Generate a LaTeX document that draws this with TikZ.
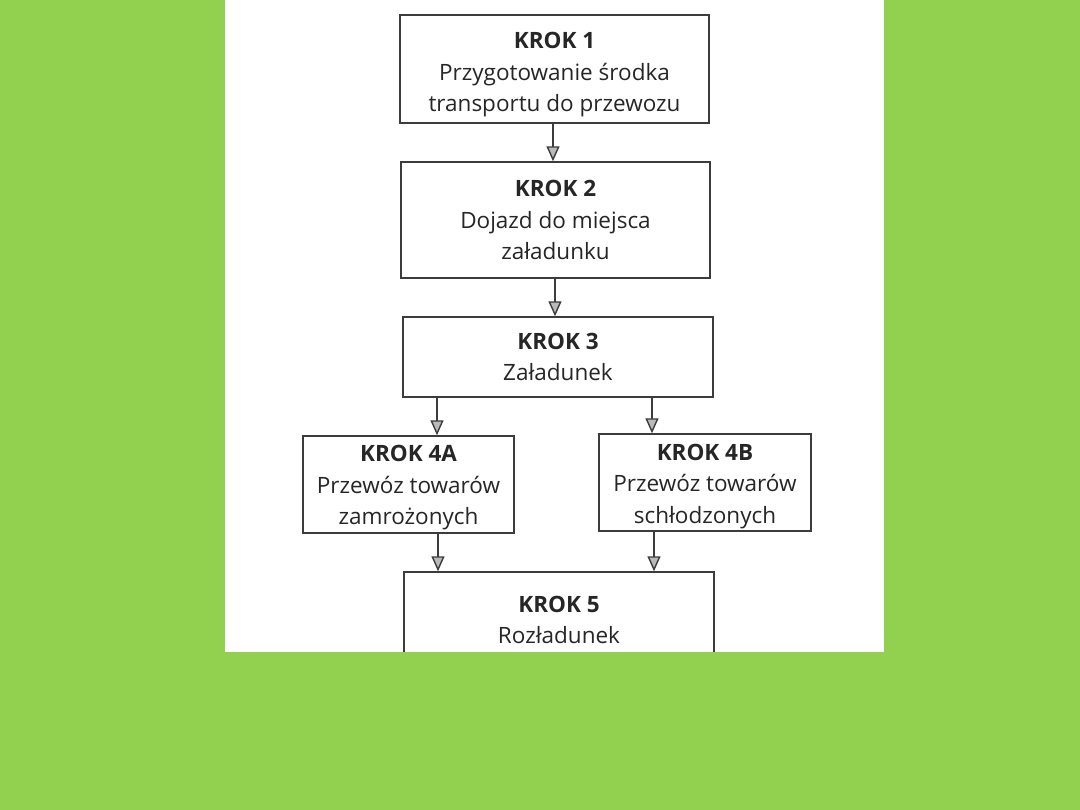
\documentclass[tikz,border=0pt]{standalone}
\usepackage{fontspec}
\setmainfont{Open Sans}
\usetikzlibrary{arrows.meta}
\definecolor{slidegreen}{RGB}{146,208,80}
\definecolor{inkgray}{RGB}{60,60,60}
% title line of a box; #2 = strut height that pushes the text down
\newcommand{\kroktitle}[2][0pt]{\rule{0pt}{#1}\textbf{KROK #2}}

\begin{document}
\begin{tikzpicture}[x=1pt, y=-1pt,
  krokbox/.style={draw=inkgray, line width=1.4pt, align=center, inner sep=0pt,
                  font=\fontsize{22.5}{31.5}\selectfont, text=black!85},
  krokarrow/.style={draw=inkgray, line width=1.4pt,
                  -{Triangle[width=13pt, length=15pt, fill=gray!55]}},
]
  \useasboundingbox (0,0) rectangle (1080,810);
  \fill[slidegreen] (0,0) rectangle (1080,810);
  \fill[white] (225,0) rectangle (884,652);

  \node[krokbox, minimum width=309pt, minimum height=108pt] (krok1) at (554.5,69)
    {\kroktitle[28pt]{1}\\Przygotowanie środka\\transportu do przewozu};
  \node[krokbox, minimum width=309pt, minimum height=116pt] (krok2) at (555.5,220)
    {\kroktitle{2}\\Dojazd do miejsca\\załadunku};
  \node[krokbox, minimum width=310pt, minimum height=80pt] (krok3) at (558,357)
    {\kroktitle{3}\\Załadunek};
  \node[krokbox, minimum width=211pt, minimum height=97pt] (krok4a) at (408.5,484.5)
    {\kroktitle[23pt]{4A}\\Przewóz towarów\\zamrożonych};
  \node[krokbox, minimum width=212pt, minimum height=97pt] (krok4b) at (705,482.5)
    {\kroktitle[24pt]{4B}\\Przewóz towarów\\schłodzonych};
  \node[krokbox, minimum width=310pt, minimum height=96pt] (krok5) at (559,620)
    {\kroktitle{5}\\Rozładunek};

  \draw[krokarrow] (krok1.south -| 553,0) -- (krok2.north -| 553,0);
  \draw[krokarrow] (krok2.south -| 555,0) -- (krok3.north -| 555,0);
  \draw[krokarrow] (krok3.south -| 437,0) -- (krok4a.north -| 437,0);
  \draw[krokarrow] (krok3.south -| 652,0) -- (krok4b.north -| 652,0);
  \draw[krokarrow] (krok4a.south -| 438,0) -- (krok5.north -| 438,0);
  \draw[krokarrow] (krok4b.south -| 654,0) -- (krok5.north -| 654,0);

  % slide margin covers the cut-off bottom of the scan
  \fill[slidegreen] (0,652) rectangle (1080,810);
\end{tikzpicture}
\end{document}
